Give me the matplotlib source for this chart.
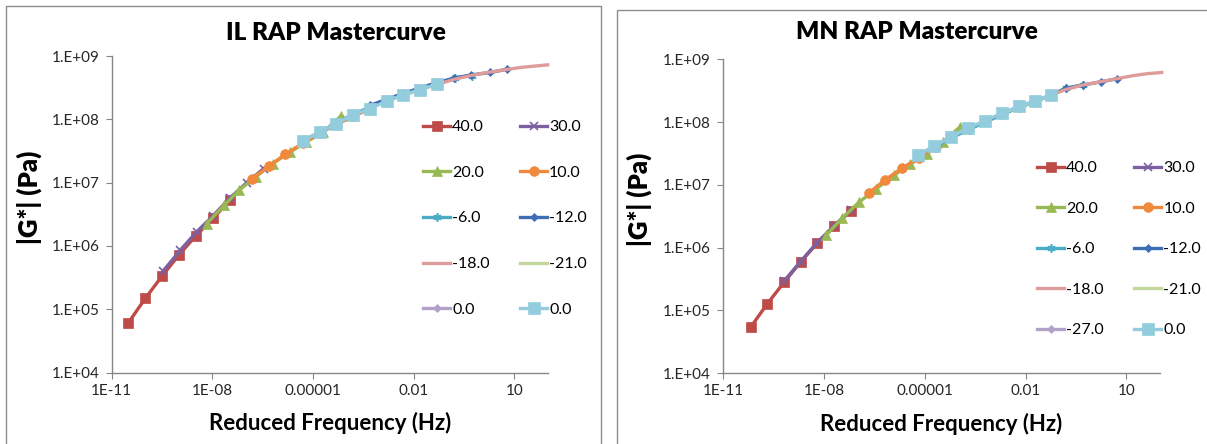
import numpy as np
import matplotlib
matplotlib.use("Agg")
import matplotlib.pyplot as plt
from matplotlib.patches import Rectangle

plt.rcParams["font.family"] = ["Lato", "DejaVu Sans"]

# series names (test temperature, C) and styling per series
series_il = ["40.0", "30.0", "20.0", "10.0", "-6.0", "-12.0", "-18.0", "-21.0", "0.0", "0.0"]
series_mn = ["40.0", "30.0", "20.0", "10.0", "-6.0", "-12.0", "-18.0", "-21.0", "-27.0", "0.0"]
colors = ["#BE4B48", "#7D60A0", "#98B954", "#F0893C", "#4BACC6", "#3E6DB5",
          "#DE9C9B", "#C3D69B", "#B3A2C7", "#93CDDD"]
markers = ["s", "x", "^", "o", (6, 2, 0), "D", "None", "None", "D", "s"]
msizes = [7, 5.5, 7, 7, 6, 4.5, 0, 0, 4.5, 8.5]

# IL RAP: log10 reduced frequency (Hz) and log10 |G*| (Pa)
il_logf = [
    [-10.51, -10.0, -9.49, -8.99, -8.49, -7.97, -7.48],
    [-9.47, -8.96, -8.47, -7.97, -7.47, -6.97, -6.47],
    [-8.17, -7.65, -7.20, -6.71, -6.20, -5.69, -5.20, -4.69, -4.17],
    [-6.83, -6.31, -5.82, -5.31, -4.80, -4.29, -3.80, -3.30],
    [-4.30, -3.80, -3.30, -2.80, -2.30, -1.80, -1.30, -0.76, -0.26],
    [-3.29, -2.79, -2.29, -1.79, -1.29, -0.79, -0.29, 0.29, 0.78],
    [-1.30, -0.80, -0.30, 0.20, 0.70, 1.20, 1.60, 2.00],
    [-2.80, -2.30, -1.80, -1.30],
    [-5.30, -4.80, -4.30, -3.80],
    [-5.29, -4.80, -4.31, -3.81, -3.29, -2.80, -2.31, -1.81, -1.31],
]
il_logg = [
    [4.78, 5.17, 5.53, 5.86, 6.16, 6.44, 6.72],
    [5.60, 5.93, 6.22, 6.48, 6.76, 7.00, 7.22],
    [6.35, 6.64, 6.88, 7.09, 7.30, 7.48, 7.64, 7.80, 8.05],
    [7.05, 7.26, 7.45, 7.62, 7.78, 7.92, 8.05, 8.16],
    [7.95, 8.08, 8.19, 8.30, 8.39, 8.48, 8.56, 8.66, 8.69],
    [8.22, 8.32, 8.41, 8.50, 8.58, 8.65, 8.70, 8.74, 8.79],
    [8.55, 8.63, 8.69, 8.74, 8.78, 8.82, 8.84, 8.86],
    [8.29, 8.38, 8.47, 8.55],
    [7.66, 7.80, 7.93, 8.07],
    [7.66, 7.80, 7.93, 8.07, 8.17, 8.29, 8.38, 8.47, 8.55],
]

# MN RAP
mn_logf = [
    [-10.19, -9.70, -9.19, -8.70, -8.21, -7.69, -7.21],
    [-9.19, -8.70, -8.21, -7.70, -7.20],
    [-7.94, -7.46, -6.97, -6.44, -5.93, -5.44, -4.95, -4.45, -3.96],
    [-6.67, -6.18, -5.67, -5.18, -4.68],
    [-4.70, -4.20, -3.70, -3.20, -2.70, -2.20, -1.70, -1.25, -0.79, -0.30],
    [-3.20, -2.70, -2.20, -1.70, -1.25, -0.79, -0.30, 0.23, 0.72],
    [-1.25, -0.80, -0.30, 0.20, 0.70, 1.20, 1.60, 2.05],
    [-2.70, -2.20, -1.70, -1.25],
    [-5.20, -4.70, -4.20, -3.70],
    [-5.21, -4.72, -4.21, -3.71, -3.20, -2.71, -2.20, -1.72, -1.25],
]
mn_logg = [
    [4.73, 5.10, 5.45, 5.77, 6.07, 6.34, 6.59],
    [5.47, 5.78, 6.08, 6.35, 6.60],
    [6.20, 6.47, 6.72, 6.94, 7.15, 7.33, 7.49, 7.69, 7.92],
    [6.87, 7.08, 7.27, 7.43, 7.61],
    [7.60, 7.75, 7.88, 8.00, 8.12, 8.23, 8.33, 8.43, 8.54, 8.59],
    [8.02, 8.13, 8.24, 8.33, 8.43, 8.54, 8.59, 8.64, 8.69],
    [8.43, 8.52, 8.59, 8.64, 8.69, 8.74, 8.77, 8.79],
    [8.13, 8.24, 8.33, 8.43],
    [7.47, 7.62, 7.77, 7.91],
    [7.47, 7.62, 7.77, 7.91, 8.02, 8.14, 8.25, 8.34, 8.43],
]

xticks = [1e-11, 1e-8, 1e-5, 1e-2, 1e1]
xticklabels = ["1E-11", "1E-08", "0.00001", "0.01", "10"]
yticks = [1e4, 1e5, 1e6, 1e7, 1e8, 1e9]
yticklabels = ["1.E+04", "1.E+05", "1.E+06", "1.E+07", "1.E+08", "1.E+09"]

fig = plt.figure(figsize=(12.07, 4.44), dpi=100)

# chart area borders
fig.patches.append(Rectangle((6 / 1207, -0.1), 595 / 1207, 1.1 - 6 / 444, transform=fig.transFigure,
                             fill=False, ec="#8C8C8C", lw=1.0))
fig.patches.append(Rectangle((617 / 1207, -0.1), 0.6, 1.1 - 10 / 444, transform=fig.transFigure,
                             fill=False, ec="#8C8C8C", lw=1.0))


def draw(ax, names, logf, logg, title, tx, ty, xl, yl, leg_anchor, leg_space):
    lines = []
    for i, name in enumerate(names):
        ln, = ax.plot(10 ** np.array(logf[i]), 10 ** np.array(logg[i]), color=colors[i], lw=2.4,
                      marker=markers[i], ms=msizes[i], mew=1.2 if markers[i] in ("x", (6, 2, 0)) else 0.5,
                      mec=colors[i], mfc=colors[i], label=name, zorder=2 + i * 0.1)
        ln.set_clip_on(False)
        lines.append(ln)
    ax.set_xscale("log")
    ax.set_yscale("log")
    ax.set_xlim(1e-11, 1e2)
    ax.set_ylim(1e4, 1e9)
    ax.minorticks_off()
    ax.set_xticks(xticks, xticklabels)
    ax.set_yticks(yticks, yticklabels)
    for s in ("top", "right"):
        ax.spines[s].set_visible(False)
    for s in ("left", "bottom"):
        ax.spines[s].set_color("#868686")
        ax.spines[s].set_linewidth(1.0)
    ax.tick_params(direction="out", length=4, color="#868686", labelsize=11, labelcolor="#262626")
    ax.tick_params(axis="y", pad=5)
    ax.tick_params(axis="x", pad=4)
    ax.patch.set_alpha(0)

    fig.text(tx, ty, title, ha="center", va="center", fontsize=17.5, fontweight="heavy")
    fig.text(xl[0], xl[1], "Reduced Frequency (Hz)", ha="center", va="center", fontsize=16, fontweight="bold")
    fig.text(yl[0], yl[1], "|G*| (Pa)", ha="center", va="center", rotation=90, fontsize=18.5,
             fontweight="heavy")

    # legend fills row by row: 40/30, 20/10, ...
    order = [0, 2, 4, 6, 8, 1, 3, 5, 7, 9]
    ax.legend([lines[k] for k in order], [names[k] for k in order], ncol=2, loc="upper left",
              bbox_to_anchor=leg_anchor, bbox_transform=fig.transFigure, frameon=False,
              borderpad=0, borderaxespad=0, handlelength=1.7, handletextpad=0.12,
              columnspacing=1.9, labelspacing=leg_space, numpoints=1, fontsize=11.5)


ax1 = fig.add_axes([111.7 / 1207, 1 - 372.5 / 444, 436 / 1207, 316.5 / 444])
draw(ax1, series_il, il_logf, il_logg, "IL RAP Mastercurve", 336 / 1207, 1 - 33 / 444,
     (330 / 1207, 1 - 423 / 444), (29 / 1207, 1 - 197 / 444), (423 / 1207, 1 - 120 / 444), 1.97)

ax2 = fig.add_axes([723.3 / 1207, 1 - 373.3 / 444, 436.7 / 1207, 314 / 444])
draw(ax2, series_mn, mn_logf, mn_logg, "MN RAP Mastercurve", 916.5 / 1207, 1 - 32 / 444,
     (941.5 / 1207, 1 - 424 / 444), (639 / 1207, 1 - 199 / 444), (1037 / 1207, 1 - 161 / 444), 1.65)

fig.savefig("out.png", dpi=100)
